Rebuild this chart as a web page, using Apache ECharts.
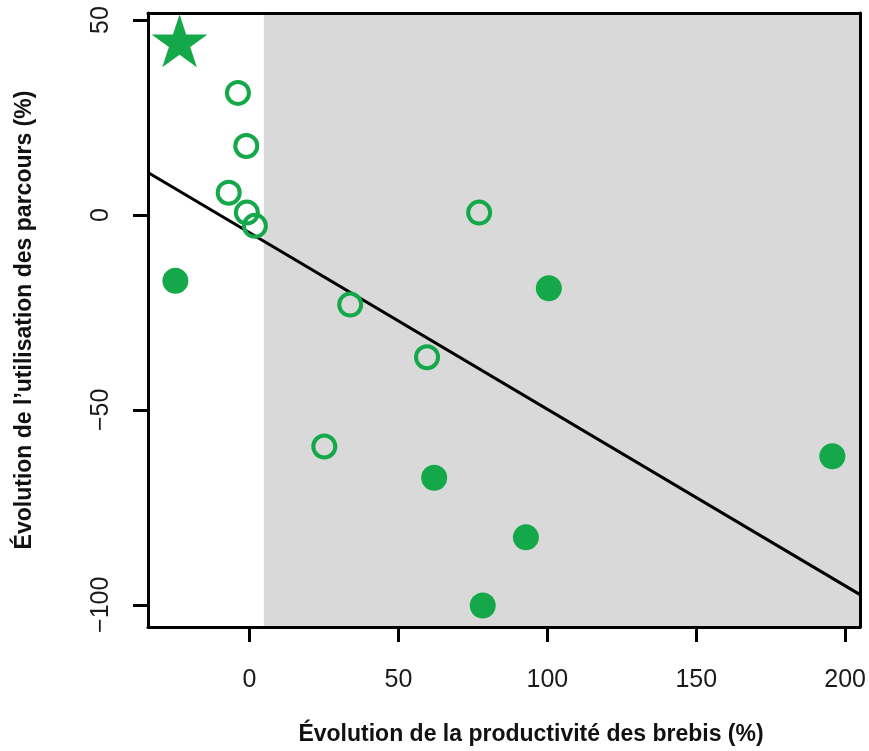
<!DOCTYPE html>
<html>
<head>
<meta charset="utf-8">
<script src="https://cdn.jsdelivr.net/npm/echarts@6/dist/echarts.min.js"></script>
<style>
  html, body { margin: 0; padding: 0; background: #fff; }
  #chart { width: 869px; height: 751px; }
</style>
</head>
<body>
<div id="chart"></div>
<script>
// values
const openX = [-3.9, -1.1, -7.0, -0.9, 1.8, 77.1, 33.8, 59.6, 25.1];
const openY = [31.3, 17.7, 5.7, 0.6, -2.8, 0.6, -23.0, -36.5, -59.4];
const filledX = [-24.9, 100.5, 195.7, 62.0, 92.8, 78.3];
const filledY = [-16.9, -18.8, -61.9, -67.4, -82.7, -100.2];
const starX = [-23.5];
const starY = [44.7];
const fitX = [-34.1, 205];
const fitY = [10.9, -97.4];
const shadeFrom = 4.8;
const xTicks = [0, 50, 100, 150, 200];
const yTicks = [-100, -50, 0, 50];

const green = '#15a84a';
const font = 'Liberation Sans, Arial, sans-serif';
const zip = (xs, ys) => xs.map((x, i) => [x, ys[i]]);
const starPath = 'path://M0,-1 L0.2245,-0.309 L0.951,-0.309 L0.363,0.118 L0.588,0.809 L0,0.382 L-0.588,0.809 L-0.363,0.118 L-0.951,-0.309 L-0.2245,-0.309 Z';

const chart = echarts.init(document.getElementById('chart'), null, { renderer: 'canvas' });

const boxLine = { show: true, onZero: false, lineStyle: { color: '#000', width: 3 } };

const option = {
    animation: false,
    grid: { left: 148, right: 7, top: 13, bottom: 123 },
    xAxis: [
        {
            type: 'value', min: -34.1, max: 205, z: 10,
            axisLine: boxLine,
            axisTick: { show: true, length: 15, customValues: xTicks, lineStyle: { color: '#000', width: 3 } },
            axisLabel: { customValues: xTicks, fontSize: 25, fontFamily: font, color: '#1a1a1a', margin: 41 },
            splitLine: { show: false },
            name: 'Évolution de la productivité des brebis (%)',
            nameLocation: 'middle', nameGap: 96,
            nameTextStyle: { fontSize: 23, fontWeight: 'bold', fontFamily: font, color: '#111', padding: [0, 0, 0, 54] }
        },
        {
            type: 'value', position: 'top', min: -34.1, max: 205, z: 10,
            axisLine: boxLine, axisTick: { show: false }, axisLabel: { show: false }, splitLine: { show: false }
        }
    ],
    yAxis: [
        {
            type: 'value', min: -105.7, max: 51.8, z: 10,
            axisLine: boxLine,
            axisTick: { show: true, length: 15, customValues: yTicks, lineStyle: { color: '#000', width: 3 } },
            axisLabel: { customValues: yTicks, rotate: 90, fontSize: 25, fontFamily: font, color: '#1a1a1a', margin: 34,
                formatter: v => String(v).replace('-', '\u2212') },
            splitLine: { show: false },
            name: 'Évolution de l\u2019utilisation des parcours (%)',
            nameLocation: 'middle', nameGap: 112,
            nameTextStyle: { fontSize: 23, fontWeight: 'bold', fontFamily: font, color: '#111' }
        },
        {
            type: 'value', position: 'right', min: -105.7, max: 51.8, z: 10,
            axisLine: boxLine, axisTick: { show: false }, axisLabel: { show: false }, splitLine: { show: false }
        }
    ],
    series: [
        {
            type: 'scatter', data: [], z: 1, silent: true,
            markArea: {
                silent: true,
                itemStyle: { color: '#d9d9d9', opacity: 1 },
                data: [[{ xAxis: shadeFrom }, { xAxis: 205 }]]
            }
        },
        {
            type: 'line', data: zip(fitX, fitY), z: 3, showSymbol: false, symbol: 'none',
            lineStyle: { color: '#000', width: 3 }
        },
        {
            type: 'scatter', data: zip(openX, openY), z: 4, symbol: 'circle', symbolSize: 22,
            itemStyle: { color: 'rgba(0,0,0,0)', borderColor: green, borderWidth: 4, opacity: 1 }
        },
        {
            type: 'scatter', data: zip(filledX, filledY), z: 4, symbol: 'circle', symbolSize: 26,
            itemStyle: { color: green, opacity: 1 }
        },
        {
            type: 'scatter', data: zip(starX, starY), z: 4, symbol: starPath, symbolSize: [56, 53],
            itemStyle: { color: green, opacity: 1 }
        }
    ]
};

chart.setOption(option);
window.addEventListener('resize', chart.resize);
</script>
</body>
</html>
